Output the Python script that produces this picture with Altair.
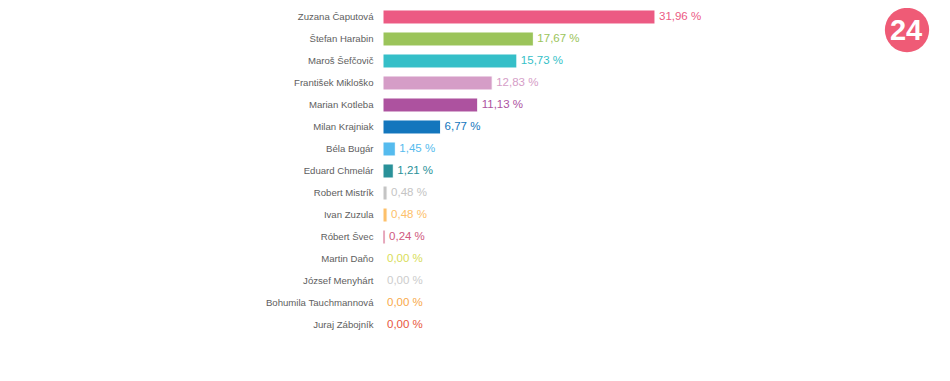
import altair as alt
import pandas as pd

candidates = ["Zuzana Čaputová", "Štefan Harabin", "Maroš Šefčovič", "František Mikloško",
              "Marian Kotleba", "Milan Krajniak", "Béla Bugár", "Eduard Chmelár",
              "Robert Mistrík", "Ivan Zuzula", "Róbert Švec", "Martin Daňo",
              "József Menyhárt", "Bohumila Tauchmannová", "Juraj Zábojník"]
values = [31.96, 17.67, 15.73, 12.83, 11.13, 6.77, 1.45, 1.21, 0.48, 0.48, 0.24, 0.0, 0.0, 0.0, 0.0]
labels = ["31,96 %", "17,67 %", "15,73 %", "12,83 %", "11,13 %", "6,77 %", "1,45 %", "1,21 %",
          "0,48 %", "0,48 %", "0,24 %", "0,00 %", "0,00 %", "0,00 %", "0,00 %"]
colors = ["#ec5a83", "#9bc45a", "#35bfc8", "#d59dc7", "#ad529f", "#1376bd", "#55bbee", "#2a9199",
          "#c4c4c4", "#fdc06a", "#d05a80", "#d8dd58", "#cccccc", "#f8a94a", "#e8573c"]

df = pd.DataFrame({"name": candidates, "value": values, "label": labels, "color": colors})

W = 559
H = 324
xscale = alt.Scale(domain=[0, W / 8.51], nice=False, zero=True)
yscale = alt.Scale(domain=candidates, paddingInner=0.3636, paddingOuter=0.045)

base = alt.Chart(df).encode(
    y=alt.Y("name:N", sort=candidates, scale=yscale,
            axis=alt.Axis(title=None, domain=False, ticks=False, labelPadding=10,
                          labelFont="Liberation Sans", labelFontSize=9.6, labelColor="#606060",
                          labelLimit=300))
)

bars = base.mark_bar(stroke="white", strokeWidth=1).encode(
    x=alt.X("value:Q", scale=xscale, axis=None),
    color=alt.Color("color:N", scale=None, legend=None),
)

text = base.mark_text(align="left", baseline="middle", dx=4, font="Liberation Sans", fontSize=11.5).encode(
    x=alt.X("value:Q", scale=xscale, axis=None),
    text="label:N",
    color=alt.Color("color:N", scale=None, legend=None),
)

logo_df = pd.DataFrame({"t": ["24"]})
logo_circle = alt.Chart(logo_df).mark_circle(size=1960, color="#ef5b76", opacity=1).encode(
    x=alt.value(524), y=alt.value(21)
)
logo_text = alt.Chart(logo_df).mark_text(font="Liberation Sans", fontSize=29,
                                          fontWeight="bold", color="white", baseline="middle",
                                          align="center").encode(
    x=alt.value(523), y=alt.value(22), text="t:N"
)

chart = alt.layer(bars, text, logo_circle, logo_text).properties(
    width=W, height=H,
    autosize=alt.AutoSizeParams(type="none"),
    padding={"left": 375, "top": 1, "right": 0, "bottom": 40},
).configure(background="white", view=alt.ViewConfig(stroke=None))

chart.save("out.html", embed_options={"renderer": "svg", "actions": False})
